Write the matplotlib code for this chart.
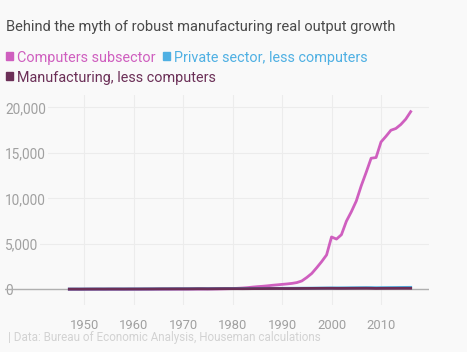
import matplotlib.pyplot as plt
from matplotlib.patches import Rectangle

plt.rcParams['font.family'] = ['Roboto', 'DejaVu Sans']

BG = '#f9f9f9'
PINK = '#cf5fbf'
BLUE = '#4fb0e3'
PLUM = '#6b2f57'

years = list(range(1947, 2017))

# computers subsector, real output index
computers = [
    1, 1, 1, 1, 2, 2, 2, 2, 3, 3,            # 1947-1956
    3, 4, 4, 5, 5, 6, 7, 8, 9, 10,           # 1957-1966
    11, 12, 13, 15, 16, 18, 21, 24, 27, 32,  # 1967-1976
    38, 46, 60, 80, 110, 140, 180, 240, 290, 330,  # 1977-1986
    380, 440, 490, 540, 590, 650, 740, 920, 1300, 1740,  # 1987-1996
    2370, 3040, 3780, 5750, 5520, 6000, 7480, 8520, 9700, 11370,  # 1997-2006
    12850, 14400, 14480, 16190, 16810, 17480, 17670, 18110, 18700, 19520,  # 2007-2016
]

# private sector, less computers
private = [
    26, 27, 27, 29, 31, 32, 33, 33, 35, 36,
    37, 37, 39, 40, 41, 43, 45, 47, 50, 53,
    54, 57, 59, 59, 61, 64, 68, 67, 67, 71,
    75, 79, 81, 81, 83, 81, 85, 91, 95, 98,
    102, 106, 110, 112, 111, 115, 118, 123, 126, 131,
    137, 143, 150, 156, 157, 160, 165, 171, 177, 182,
    186, 185, 179, 184, 188, 193, 198, 204, 211, 215,
]

# manufacturing, less computers
manufacturing = [
    22, 23, 22, 25, 28, 29, 31, 29, 32, 33,
    33, 31, 34, 35, 35, 38, 40, 43, 47, 50,
    50, 52, 54, 52, 53, 58, 63, 62, 57, 62,
    66, 70, 71, 68, 69, 65, 69, 75, 77, 78,
    82, 85, 87, 86, 84, 86, 89, 94, 97, 99,
    103, 106, 108, 110, 103, 103, 105, 109, 111, 113,
    115, 110, 97, 104, 106, 108, 110, 112, 113, 112,
]

ytick_vals = [0, 5000, 10000, 15000, 20000]
ytick_labels = ['0', '5,000', '10,000', '15,000', '20,000']
xtick_vals = [1950, 1960, 1970, 1980, 1990, 2000, 2010]

W, H = 467, 352
fig = plt.figure(figsize=(W / 100, H / 100), dpi=100, facecolor=BG)

# axes box in pixels: x 5..429, y 95..305 (from top)
ax = fig.add_axes([5 / W, (H - 305) / H, (429 - 5) / W, (305 - 95) / H])
ax.set_facecolor(BG)

ax.plot(years, computers, color=PINK, lw=2.0, zorder=3)
ax.plot(years, private, color=BLUE, lw=2.0, zorder=4)
ax.plot(years, manufacturing, color=PLUM, lw=2.0, zorder=5)

ax.set_xlim(1934, 2019.7)
ax.set_ylim(-1725, 21352)

for s in ax.spines.values():
    s.set_visible(False)

ax.set_xticks(xtick_vals)
ax.set_xticklabels([str(v) for v in xtick_vals])
ax.set_yticks(ytick_vals)
ax.set_yticklabels(ytick_labels)
ax.tick_params(axis='x', length=0, pad=10, labelsize=9.4, labelcolor='#a0a0a0')
ax.tick_params(axis='y', length=0, pad=0, labelsize=9.8, labelcolor='#a0a0a0')
for t in ax.get_yticklabels():
    t.set_horizontalalignment('left')
    t.set_bbox(dict(facecolor=BG, edgecolor='none', pad=1.5))

ax.grid(True, color='#ececec', lw=0.8)
ax.set_axisbelow(True)
ax.axhline(0, color='#b0b0b0', lw=1, zorder=1)

# title
fig.text(6 / W, 1 - 31 / H, 'Behind the myth of robust manufacturing real output growth',
         fontsize=10.5, color='#4a4a4a', va='baseline')

# legend
legend_items = [
    ('Computers subsector', PINK, 6, 61.7),
    ('Private sector, less computers', BLUE, 163, 61.7),
    ('Manufacturing, less computers', PLUM, 6, 81.7),
]
for label, color, x0, base in legend_items:
    fig.patches.append(Rectangle((x0 / W, 1 - (base - 1.5) / H), 7 / W, 8 / H,
                                 transform=fig.transFigure, color=color))
    fig.text((x0 + 11) / W, 1 - base / H, label, fontsize=10.4, color=color,
             va='baseline')

fig.text(8 / W, 1 - 338 / H, '| Data: Bureau of Economic Analysis, Houseman calculations',
         fontsize=8.4, color='#d2d2d2', va='center')

fig.savefig('out.png', dpi=100, facecolor=BG)
